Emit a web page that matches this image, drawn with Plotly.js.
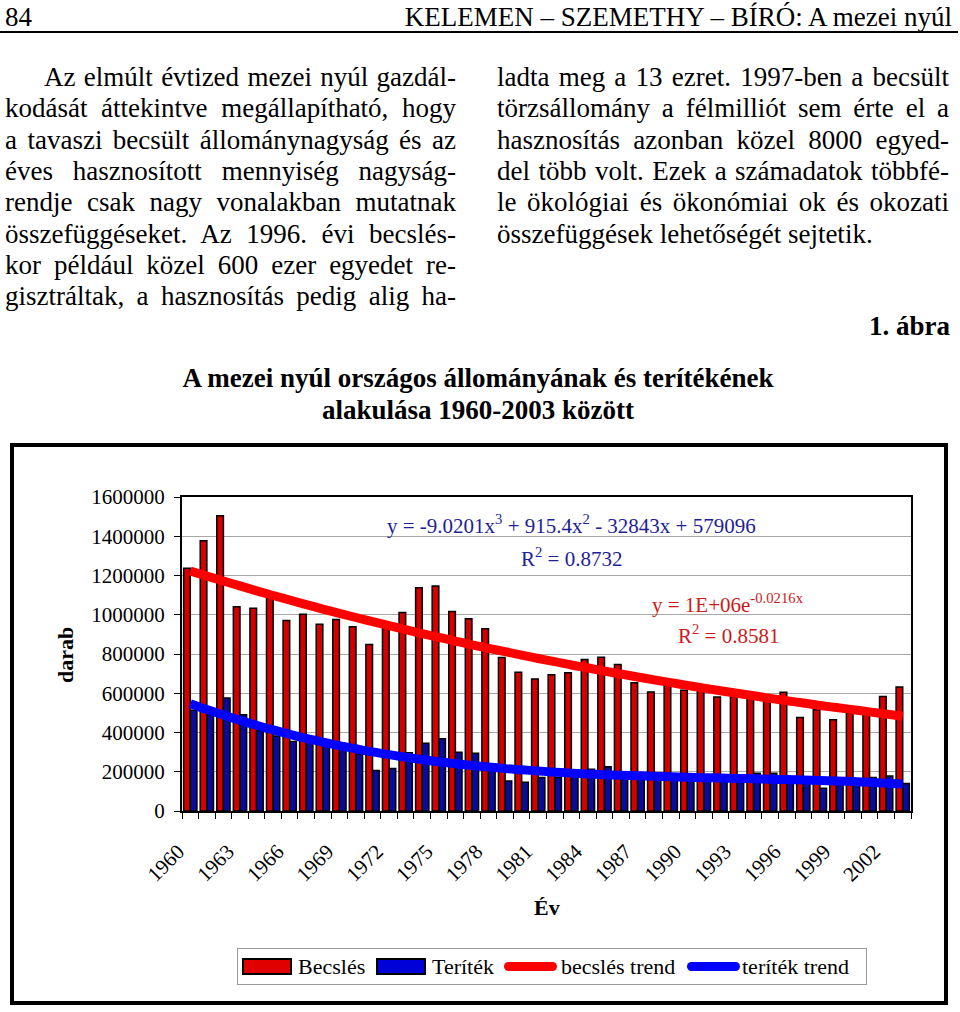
<!DOCTYPE html>
<html>
<head>
<meta charset="utf-8">
<script src="https://cdn.plot.ly/plotly-3.0.1.min.js"></script>
<style>
  html, body { margin: 0; padding: 0; background: #fff; }
  body { width: 960px; height: 1012px; position: relative; overflow: hidden;
         font-family: "Liberation Serif", "Times New Roman", serif; color: #000; }
  .ln { position: absolute; font-family: "Liberation Serif", "Times New Roman", serif;
        font-size: 27px; line-height: 27px; white-space: normal;
        text-align: justify; text-align-last: justify; }
  .plain { text-align: left; text-align-last: left; }
  #box { position: absolute; left: 10px; top: 443px; width: 938px; height: 562px;
         border: 4px solid #000; box-sizing: border-box; }
  #chart { position: absolute; left: 0; top: 0; width: 960px; height: 1012px; }
  #legend { position: absolute; left: 237px; top: 948px; width: 630px; height: 37px;
            border: 1px solid #999; background: #fff; box-sizing: border-box; }
  #legend .sw { position: absolute; box-sizing: border-box; }
  #legend .lt { position: absolute; top: 6px; font-family: "Liberation Serif", "Times New Roman", serif;
                font-size: 22px; line-height: 24px; white-space: nowrap; }
</style>
</head>
<body>
<div class="ln plain" style="left:5px; top:4px;">84</div>
<div class="ln plain" style="right:8px; top:4px;">KELEMEN – SZEMETHY – BÍRÓ: A mezei nyúl</div>
<div style="position:absolute; left:0; top:31px; width:958px; height:2px; background:#000;"></div>

<div class="ln plain" style="right:10px; top:313px; font-weight:bold;">1. ábra</div>
<div class="ln" style="left:0; width:956px; top:365px; font-weight:bold; text-align:center; text-align-last:center;">A mezei nyúl országos állományának és terítékének</div>
<div class="ln" style="left:0; width:956px; top:397px; font-weight:bold; text-align:center; text-align-last:center;">alakulása 1960-2003 között</div>

<div id="box"></div>
<div id="chart"></div>
<div id="legend"></div>

<script>
// ---- page text ----
const leftLines = [
  "Az elmúlt évtized mezei nyúl gazdál-",
  "kodását áttekintve megállapítható, hogy",
  "a tavaszi becsült állománynagyság és az",
  "éves hasznosított mennyiség nagyság-",
  "rendje csak nagy vonalakban mutatnak",
  "összefüggéseket. Az 1996. évi becslés-",
  "kor például közel 600 ezer egyedet re-",
  "gisztráltak, a hasznosítás pedig alig ha-"
];
const rightLines = [
  "ladta meg a 13 ezret. 1997-ben a becsült",
  "törzsállomány a félmilliót sem érte el a",
  "hasznosítás azonban közel 8000 egyed-",
  "del több volt. Ezek a számadatok többfé-",
  "le ökológiai és ökonómiai ok és okozati",
  "összefüggések lehetőségét sejtetik."
];
function putLines(arr, left, width, firstIndent, lastPlain) {
  arr.forEach((t, i) => {
    const d = document.createElement('div');
    d.className = 'ln' + (lastPlain && i === arr.length - 1 ? ' plain' : '');
    const ind = (i === 0 ? firstIndent : 0);
    d.style.left = (left + ind) + 'px';
    d.style.width = (width - ind) + 'px';
    d.style.top = (64 + i * 31.3) + 'px';
    d.textContent = t;
    document.body.appendChild(d);
  });
}
putLines(leftLines, 5, 451, 39, false);
putLines(rightLines, 497, 452, 0, true);

// ---- chart data ----
const years = [1960,1961,1962,1963,1964,1965,1966,1967,1968,1969,1970,1971,1972,1973,1974,1975,1976,1977,1978,1979,1980,1981,1982,1983,1984,1985,1986,1987,1988,1989,1990,1991,1992,1993,1994,1995,1996,1997,1998,1999,2000,2001,2002,2003];
const becsles = [1237000,1377000,1504000,1041000,1033000,1096000,971000,1002000,952000,976000,939000,849000,934000,1011000,1138000,1147000,1017000,980000,929000,782000,707000,673000,694000,704000,772000,784000,746000,653000,607000,640000,615000,620000,581000,584000,575000,570000,605000,477000,516000,465000,500000,495000,584000,632000];
const teritek = [513000,490000,576000,490000,410000,382000,354000,360000,340000,320000,290000,206000,217000,297000,345000,368000,299000,294000,222000,153000,146000,171000,170000,190000,213000,226000,190000,180000,178000,172000,168000,165000,166000,165000,192000,192000,168000,160000,116000,150000,150000,171000,178000,140000];
const becslesTrend = [1223000,1197000,1172000,1147000,1122000,1098000,1075000,1052000,1029000,1007000,986000,965000,944000,924000,904000,885000,866000,847000,829000,812000,794000,777000,761000,744000,729000,713000,698000,683000,668000,654000,640000,626000,613000,600000,587000,574000,562000,550000,538000,527000,516000,505000,494000,483000];
const teritekTrend = [547000,517000,489000,462000,437000,413000,391000,370000,351000,333000,317000,301000,287000,274000,262000,251000,241000,232000,224000,216000,210000,204000,198000,193000,189000,185000,182000,179000,177000,174000,172000,170000,168000,166000,164000,162000,160000,158000,155000,153000,150000,146000,142000,138000];
const labelYears = [1960,1963,1966,1969,1972,1975,1978,1981,1984,1987,1990,1993,1996,1999,2002];
const labelText = ["1960","1963","1966","1969","1972","1975","1978","1981","1984","1987","1990","1993","1996","1999","2002"];
const seriesNames = ["Becslés","Teríték","becslés trend","teríték trend"];
const seriesColors = ["#d40000","#0a0a9e","#ff0000","#0000ff"];
const eqPoly = "y = -9.0201x<sup>3</sup> + 915.4x<sup>2</sup> - 32843x + 579096";
const r2Poly = "R<sup>2</sup> = 0.8732";
const eqExp = "y = 1E+06e<sup>-0.0216x</sup>";
const r2Exp = "R<sup>2</sup> = 0.8581";

const FONT = 'Liberation Serif, "Times New Roman", serif';
const boundaries = years.map(y => y - 0.5).concat([years[years.length - 1] + 0.5]);

const traces = [
  { type: 'bar', x: years, y: becsles, name: seriesNames[0],
    marker: { color: seriesColors[0], line: { color: '#000', width: 1.5 } } },
  { type: 'bar', x: years, y: teritek, name: seriesNames[1],
    marker: { color: seriesColors[1], line: { color: '#000', width: 1.5 } } },
  { type: 'scatter', mode: 'lines', x: years, y: becslesTrend, name: seriesNames[2],
    line: { color: seriesColors[2], width: 9, shape: 'spline' } },
  { type: 'scatter', mode: 'lines', x: years, y: teritekTrend, name: seriesNames[3],
    line: { color: seriesColors[3], width: 9, shape: 'spline' } }
];

const L = 182, R = 911, T = 497, B = 811;
const px = x => (x - L) / (R - L);
const py = y => (B - y) / (B - T);
function ann(x, y, text, color, size, extra) {
  return Object.assign({ xref: 'paper', yref: 'paper', x: px(x), y: py(y), text: text,
    showarrow: false, xanchor: 'center', yanchor: 'middle',
    font: { family: FONT, size: size, color: color } }, extra || {});
}

const layout = {
  width: 960, height: 1012,
  margin: { l: L, r: 960 - R, t: T, b: 1012 - B, pad: 0 },
  paper_bgcolor: 'rgba(0,0,0,0)', plot_bgcolor: '#fff',
  font: { family: FONT, size: 21, color: '#000' },
  barmode: 'group', bargap: 0.2, bargroupgap: 0,
  showlegend: false,
  xaxis: {
    range: [1959.5, 2003.5], tickmode: 'array', tickvals: labelYears, ticktext: labelText,
    tickangle: -45, ticks: '', showgrid: false, zeroline: false,
    showline: true, mirror: true, linecolor: '#000', linewidth: 2,
    tickfont: { family: FONT, size: 21 }, ticklabelstandoff: 18, ticklabelshift: -12,
    minor: { tickmode: 'array', tickvals: boundaries, ticks: 'outside', ticklen: 6,
             tickcolor: '#000', tickwidth: 1, showgrid: false }
  },
  yaxis: {
    range: [0, 1600000], dtick: 200000, tick0: 0, tickformat: 'd',
    ticks: 'outside', ticklen: 6, tickcolor: '#000',
    showgrid: true, gridcolor: '#a8a8a8', gridwidth: 1, zeroline: false,
    showline: true, mirror: true, linecolor: '#000', linewidth: 2,
    tickfont: { family: FONT, size: 21 }, ticklabelstandoff: 5
  },
  annotations: [
    ann(571, 524, eqPoly, '#1e1e96', 21),
    ann(571, 557, r2Poly, '#1e1e96', 21),
    ann(728, 603, eqExp, '#cc1a1a', 21),
    ann(728, 634, r2Exp, '#cc1a1a', 21),
    ann(65, 655, '<b>darab</b>', '#000', 22, { textangle: -90 }),
    ann(547, 907, '<b>Év</b>', '#000', 22)
  ]
};

Plotly.newPlot('chart', traces, layout, { staticPlot: true, displayModeBar: false });

// ---- legend (drawn as page elements) ----
const leg = document.getElementById('legend');
const legItems = [
  { kind: 'bar',  sw: 4,   txt: 60 },
  { kind: 'bar',  sw: 138, txt: 194 },
  { kind: 'line', sw: 266, txt: 323 },
  { kind: 'line', sw: 449, txt: 504 }
];
legItems.forEach((it, i) => {
  const s = document.createElement('div');
  s.className = 'sw';
  s.style.left = it.sw + 'px';
  if (it.kind === 'bar') {
    s.style.top = '9px'; s.style.width = '50px'; s.style.height = '17px';
    s.style.background = i === 0 ? '#e00000' : '#0000d8';
    s.style.border = '2px solid #000';
  } else {
    s.style.top = '13px'; s.style.width = '53px'; s.style.height = '9px';
    s.style.borderRadius = '5px';
    s.style.background = seriesColors[i];
  }
  leg.appendChild(s);
  const t = document.createElement('div');
  t.className = 'lt';
  t.style.left = it.txt + 'px';
  t.textContent = seriesNames[i];
  leg.appendChild(t);
});
</script>
</body>
</html>
